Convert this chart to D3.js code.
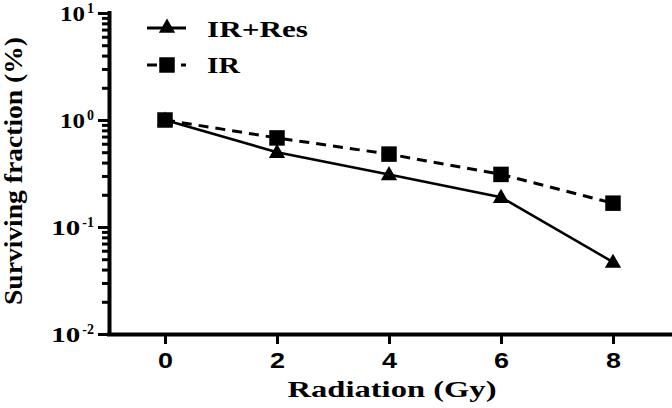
<!DOCTYPE html>
<html>
<head>
<meta charset="utf-8">
<script src="https://cdn.jsdelivr.net/npm/d3@7"></script>
<style>
  body { margin: 0; background: #fff; }
  svg { display: block; }
</style>
</head>
<body>
<svg width="672" height="408"></svg>
<script>
const doses = [0, 2, 4, 6, 8];
const irRes = [1.0, 0.50, 0.31, 0.19, 0.047];
const ir = [1.0, 0.68, 0.48, 0.31, 0.167];
const seriesNames = ['IR+Res', 'IR'];
const yTickExps = [1, 0, -1, -2];

const serif = '"Liberation Serif", "Times New Roman", serif';
const sans = '"Liberation Sans", Arial, sans-serif';

const xScale = d3.scaleLinear()
	.domain([-1, 9])
	.range([109, 669]);
const yScale = d3.scaleLog()
	.domain([0.01, 10])
	.range([334, 13]);

const svg = d3.select('svg');

// y axis: minor log ticks, then major ticks with hand-made 10^n labels
const minors = [];
[0.01, 0.1, 1].forEach(b => {
	for (let k = 2; k <= 9; k++) minors.push(b * k);
});
const majors = yTickExps.map(e => Math.pow(10, e));

const gyMinor = svg.append('g')
	.attr('transform', 'translate(109,0)')
	.call(d3.axisLeft(yScale).tickValues(minors).tickSize(7).tickSizeOuter(0).tickFormat(''));
gyMinor.select('.domain').remove();
gyMinor.selectAll('.tick line').attr('stroke', '#000').attr('stroke-width', 3);

const gy = svg.append('g')
	.attr('id', 'y-axis')
	.attr('transform', 'translate(109,0)')
	.call(d3.axisLeft(yScale).tickValues(majors).tickSize(11).tickSizeOuter(0).tickFormat(''));
gy.select('.domain')
	.attr('d', 'M0.5,' + (yScale(10) - 2) + 'V' + (yScale(0.01) + 2))
	.attr('stroke', '#000')
	.attr('stroke-width', 4);
gy.selectAll('.tick line').attr('stroke', '#000').attr('stroke-width', 3);

const yLabels = gy.selectAll('.tick')
	.append('text')
	.attr('x', -15)
	.attr('y', 7.5)
	.attr('dy', 0)
	.attr('text-anchor', 'end')
	.style('font-family', serif)
	.style('font-weight', 'bold')
	.style('font-size', '22px')
	.attr('fill', '#000');
yLabels.append('tspan')
	.attr('textLength', d => d < 1 ? 29 : 25)
	.attr('lengthAdjust', 'spacingAndGlyphs')
	.text('10');
yLabels.append('tspan')
	.attr('dy', -8)
	.attr('dx', 2)
	.style('font-size', '14px')
	.text(d => {
		const e = Math.round(Math.log10(d));
		return e < 0 ? '-' + Math.abs(e) : e;
	});

// x axis
const xAxis = d3.axisBottom(xScale)
	.tickValues(doses)
	.tickSize(10)
	.tickSizeOuter(0)
	.tickPadding(8);
const gx = svg.append('g')
	.attr('id', 'x-axis')
	.attr('transform', 'translate(0,' + yScale(0.01) + ')')
	.call(xAxis);
gx.select('.domain')
	.attr('d', 'M107,0.5H672')
	.attr('stroke-width', 4);
gx.selectAll('.tick line').attr('stroke-width', 3);
gx.selectAll('.tick text')
	.attr('dy', '0.71em')
	.attr('textLength', 15)
	.attr('lengthAdjust', 'spacingAndGlyphs')
	.style('font-family', sans)
	.style('font-weight', 'bold')
	.style('font-size', '22px')
	.attr('fill', '#000');

// axis titles
svg.append('text')
	.attr('x', 392)
	.attr('y', 397)
	.attr('text-anchor', 'middle')
	.attr('textLength', 209)
	.attr('lengthAdjust', 'spacingAndGlyphs')
	.style('font-family', serif)
	.style('font-weight', 'bold')
	.style('font-size', '24px')
	.text('Radiation (Gy)');

svg.append('text')
	.attr('transform', 'translate(22,171) rotate(-90)')
	.attr('text-anchor', 'middle')
	.attr('textLength', 268)
	.attr('lengthAdjust', 'spacingAndGlyphs')
	.style('font-family', serif)
	.style('font-weight', 'bold')
	.style('font-size', '26px')
	.text('Surviving fraction (%)');

// series
const line = d3.line()
	.x((d, i) => xScale(doses[i]))
	.y(d => yScale(d));

svg.append('path')
	.datum(ir)
	.attr('d', line)
	.attr('fill', 'none')
	.attr('stroke', '#000')
	.attr('stroke-width', 3)
	.attr('stroke-dasharray', '10,7');

svg.append('path')
	.datum(irRes)
	.attr('d', line)
	.attr('fill', 'none')
	.attr('stroke', '#000')
	.attr('stroke-width', 2.5);

const tri = d3.symbol().type(d3.symbolTriangle).size(115);
const sq = d3.symbol().type(d3.symbolSquare).size(240);

svg.selectAll('.sq')
	.data(ir)
	.enter()
	.append('path')
	.attr('class', 'sq')
	.attr('d', sq)
	.attr('transform', (d, i) => 'translate(' + xScale(doses[i]) + ',' + yScale(d) + ')')
	.attr('fill', '#000');

svg.selectAll('.tri')
	.data(irRes)
	.enter()
	.append('path')
	.attr('class', 'tri')
	.attr('d', tri)
	.attr('transform', (d, i) => 'translate(' + xScale(doses[i]) + ',' + (yScale(d) + 1) + ')')
	.attr('fill', '#000');

// legend
const legend = svg.append('g').attr('id', 'legend');
legend.append('line')
	.attr('x1', 147).attr('x2', 186).attr('y1', 28).attr('y2', 28)
	.attr('stroke', '#000').attr('stroke-width', 3);
legend.append('path')
	.attr('d', tri)
	.attr('transform', 'translate(167,28)');
legend.append('line')
	.attr('x1', 147).attr('x2', 186).attr('y1', 65).attr('y2', 65)
	.attr('stroke', '#000').attr('stroke-width', 3)
	.attr('stroke-dasharray', '10,7');
legend.append('path')
	.attr('d', sq)
	.attr('transform', 'translate(167,65)');
legend.selectAll('text')
	.data(seriesNames)
	.enter()
	.append('text')
	.attr('x', 207)
	.attr('y', (d, i) => 37 + i * 36)
	.attr('textLength', (d, i) => i === 0 ? 101 : 33)
	.attr('lengthAdjust', 'spacingAndGlyphs')
	.style('font-family', serif)
	.style('font-weight', 'bold')
	.style('font-size', '23px')
	.text(d => d);
</script>
</body>
</html>
